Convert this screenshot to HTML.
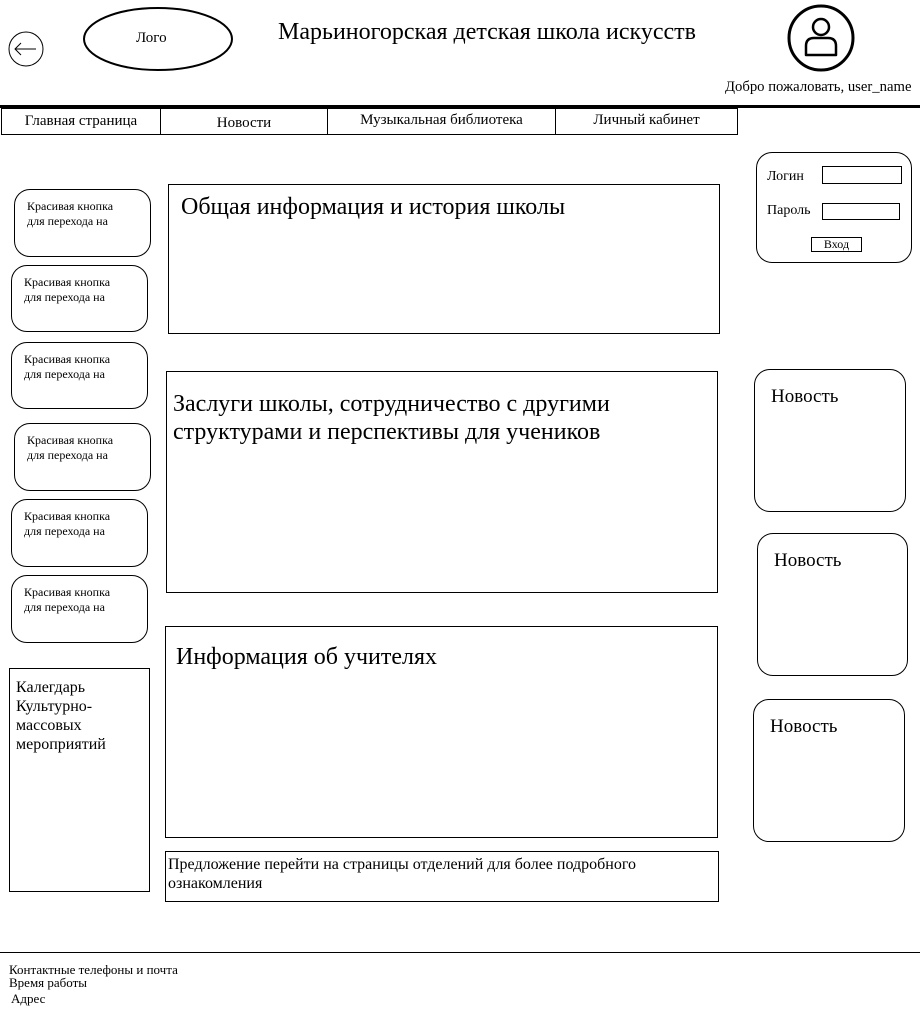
<!DOCTYPE html>
<html><head><meta charset="utf-8"><style>
body{margin:0;width:920px;height:1010px;background:#fff;position:relative;overflow:hidden;font-family:"Liberation Serif",serif;color:#000}
.a{position:absolute;box-sizing:border-box}
.b{border:1px solid #000}
.r{border:1px solid #000;border-radius:16px}
.btn{font-size:12px;line-height:15px;padding:9px 0 0 12px}
.t{position:absolute;white-space:nowrap}
.nav{position:absolute;top:108px;height:27px;border:1px solid #000;box-sizing:border-box;font-size:15px;text-align:center}
</style></head><body>
<svg class="a" style="left:0;top:0" width="920" height="110">
<circle cx="26" cy="49" r="17" fill="none" stroke="#000" stroke-width="1"/>
<line x1="15" y1="49" x2="36" y2="49" stroke="#000"/>
<polyline points="21,43 15,49 21,55" fill="none" stroke="#000"/>
<ellipse cx="158" cy="39" rx="74" ry="31" fill="none" stroke="#000" stroke-width="2"/>
<circle cx="821" cy="38" r="32" fill="none" stroke="#000" stroke-width="3"/>
<circle cx="821" cy="27" r="8" fill="none" stroke="#000" stroke-width="2.5"/>
<path d="M806 55 L806 46 Q806 38 814 38 L828 38 Q836 38 836 46 L836 55 Z" fill="none" stroke="#000" stroke-width="2.5" stroke-linejoin="round"/>
</svg>
<div class="t" style="left:136px;top:30px;font-size:15px">Лого</div>
<div class="t" style="left:278px;top:19px;font-size:24px">Марьиногорская детская школа искусств</div>
<div class="t" style="left:725px;top:79px;font-size:14.7px">Добро пожаловать, user_name</div>
<div class="a" style="left:0;top:105px;width:920px;height:3px;background:#000"></div>
<div class="nav" style="left:1px;width:160px;padding-top:4px">Главная страница</div>
<div class="nav" style="left:160px;width:168px;padding-top:6px">Новости</div>
<div class="nav" style="left:327px;width:229px;padding-top:3px">Музыкальная библиотека</div>
<div class="nav" style="left:555px;width:183px;padding-top:3px">Личный кабинет</div>

<div class="a r btn" style="left:14px;top:189px;width:137px;height:68px">Красивая кнопка<br>для перехода на</div>
<div class="a r btn" style="left:11px;top:265px;width:137px;height:67px">Красивая кнопка<br>для перехода на</div>
<div class="a r btn" style="left:11px;top:342px;width:137px;height:67px">Красивая кнопка<br>для перехода на</div>
<div class="a r btn" style="left:14px;top:423px;width:137px;height:68px">Красивая кнопка<br>для перехода на</div>
<div class="a r btn" style="left:11px;top:499px;width:137px;height:68px">Красивая кнопка<br>для перехода на</div>
<div class="a r btn" style="left:11px;top:575px;width:137px;height:68px">Красивая кнопка<br>для перехода на</div>
<div class="a b" style="left:9px;top:668px;width:141px;height:224px;font-size:16px;line-height:19px;padding:9px 0 0 6px">Калегдарь<br>Культурно-<br>массовых<br>мероприятий</div>

<div class="a b" style="left:168px;top:184px;width:552px;height:150px;font-size:24px;padding:9px 0 0 12px">Общая информация и история школы</div>
<div class="a b" style="left:166px;top:371px;width:552px;height:222px;font-size:24px;line-height:28px;padding:18px 0 0 6px">Заслуги школы, сотрудничество с другими<br>структурами и перспективы для учеников</div>
<div class="a b" style="left:165px;top:626px;width:553px;height:212px;font-size:24px;padding:17px 0 0 10px">Информация об учителях</div>
<div class="a b" style="left:165px;top:851px;width:554px;height:51px;font-size:16px;line-height:19px;padding:3px 0 0 2px">Предложение перейти на страницы отделений для более подробного<br>ознакомления</div>

<div class="a r" style="left:756px;top:152px;width:156px;height:111px"></div>
<div class="t" style="left:767px;top:169px;font-size:14px">Логин</div>
<div class="a b" style="left:822px;top:166px;width:80px;height:18px"></div>
<div class="t" style="left:767px;top:203px;font-size:14px">Пароль</div>
<div class="a b" style="left:822px;top:203px;width:78px;height:17px"></div>
<div class="a b" style="left:811px;top:237px;width:51px;height:15px;font-size:12px;text-align:center;line-height:13px">Вход</div>

<div class="a r" style="left:754px;top:369px;width:152px;height:143px;font-size:19px;padding:16px 0 0 16px">Новость</div>
<div class="a r" style="left:757px;top:533px;width:151px;height:143px;font-size:19px;padding:16px 0 0 16px">Новость</div>
<div class="a r" style="left:753px;top:699px;width:152px;height:143px;font-size:19px;padding:16px 0 0 16px">Новость</div>

<div class="a" style="left:0;top:952px;width:920px;height:1px;background:#000"></div>
<div class="t" style="left:9px;top:962px;font-size:13px">Контактные телефоны и почта</div>
<div class="t" style="left:9px;top:975px;font-size:13px">Время работы</div>
<div class="t" style="left:11px;top:991px;font-size:13px">Адрес</div>
</body></html>
